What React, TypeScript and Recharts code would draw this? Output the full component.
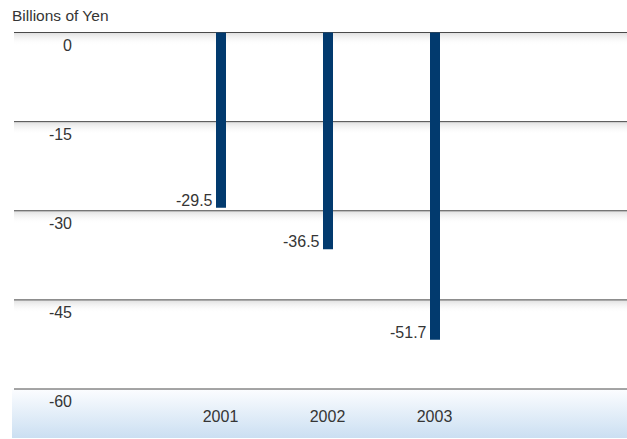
import { BarChart, Bar, XAxis, YAxis, CartesianGrid, LabelList } from "recharts";

// Net loss per fiscal year, billions of yen
const YEARS = ["2001", "2002", "2003"];
const NET_LOSS = [-29.5, -36.5, -51.7];
const Y_TICKS = [0, -15, -30, -45, -60];

const data = YEARS.map((year, i) => ({ year, value: NET_LOSS[i] }));

const WIDTH = 627;
const HEIGHT = 439;
const MARGIN = { top: 32.5, right: 0, bottom: 0, left: 14 };
const X_AXIS_HEIGHT = 50;
const PLOT_BOTTOM = HEIGHT - MARGIN.bottom - X_AXIS_HEIGHT;

const FONT = "'Liberation Sans', Arial, Helvetica, sans-serif";
const TEXT_COLOR = "#353535";
const BAR_COLOR = "#023a6e";

// ─── Grid line with soft shading under it; the bottom one gets the blue band ──

const renderGridLine = (props: any) => {
  const { x1, x2, y1 } = props;
  const isBottom = Math.abs(y1 - PLOT_BOTTOM) < 1;
  return (
    <g key={`grid-${y1}`}>
      {isBottom ? (
        <rect x={x1 - 2} y={y1} width={x2 - x1 + 2} height={49} fill="url(#bandFill)" />
      ) : (
        <rect x={x1} y={y1} width={x2 - x1} height={13} fill="url(#lineShade)" />
      )}
      <line x1={x1} x2={x2} y1={y1} y2={y1} stroke="#4a4a4a" strokeWidth={1} />
    </g>
  );
};

const YTick = ({ y, payload }: any) => (
  <text x={72} y={y + 18} textAnchor="end" fontSize={16} fontFamily={FONT} fill={TEXT_COLOR}>
    {payload.value}
  </text>
);

const XTick = ({ x, y, payload }: any) => (
  <text x={x} y={y + 25} textAnchor="middle" fontSize={16} fontFamily={FONT} fill={TEXT_COLOR}>
    {payload.value}
  </text>
);

// value label sits to the left of the bar's lower end
const BarValueLabel = ({ x, y, height, value }: any) => {
  const bottom = Math.max(y, y + height);
  return (
    <text x={x - 3.5} y={bottom - 2} textAnchor="end" fontSize={16} fontFamily={FONT} fill={TEXT_COLOR}>
      {value}
    </text>
  );
};

export default function App() {
  return (
    <div style={{ position: "absolute", left: 0, top: 0, width: WIDTH, height: HEIGHT, background: "#fff" }}>
      <div
        style={{
          position: "absolute",
          left: 12,
          top: 8,
          fontFamily: FONT,
          fontSize: 15.5,
          lineHeight: "15px",
          color: TEXT_COLOR,
          whiteSpace: "nowrap",
        }}
      >
        Billions of Yen
      </div>
      <BarChart width={WIDTH} height={HEIGHT} data={data} margin={MARGIN}>
        <defs>
          <linearGradient id="lineShade" x1="0" y1="0" x2="0" y2="1">
            <stop offset="0%" stopColor="#dedede" />
            <stop offset="100%" stopColor="#ffffff" stopOpacity={0} />
          </linearGradient>
          <linearGradient id="bandFill" x1="0" y1="0" x2="0" y2="1">
            <stop offset="0%" stopColor="#fcfdff" />
            <stop offset="100%" stopColor="#cbdff2" />
          </linearGradient>
        </defs>
        <CartesianGrid vertical={false} horizontal={renderGridLine} />
        <XAxis
          dataKey="year"
          height={X_AXIS_HEIGHT}
          axisLine={false}
          tickLine={false}
          padding={{ left: 153, right: 139 }}
          tick={<XTick />}
        />
        <YAxis
          mirror
          width={60}
          domain={[-60, 0]}
          ticks={Y_TICKS}
          interval={0}
          axisLine={false}
          tickLine={false}
          tick={<YTick />}
        />
        <Bar dataKey="value" fill={BAR_COLOR} barSize={10} isAnimationActive={false}>
          <LabelList dataKey="value" content={<BarValueLabel />} />
        </Bar>
      </BarChart>
    </div>
  );
}
